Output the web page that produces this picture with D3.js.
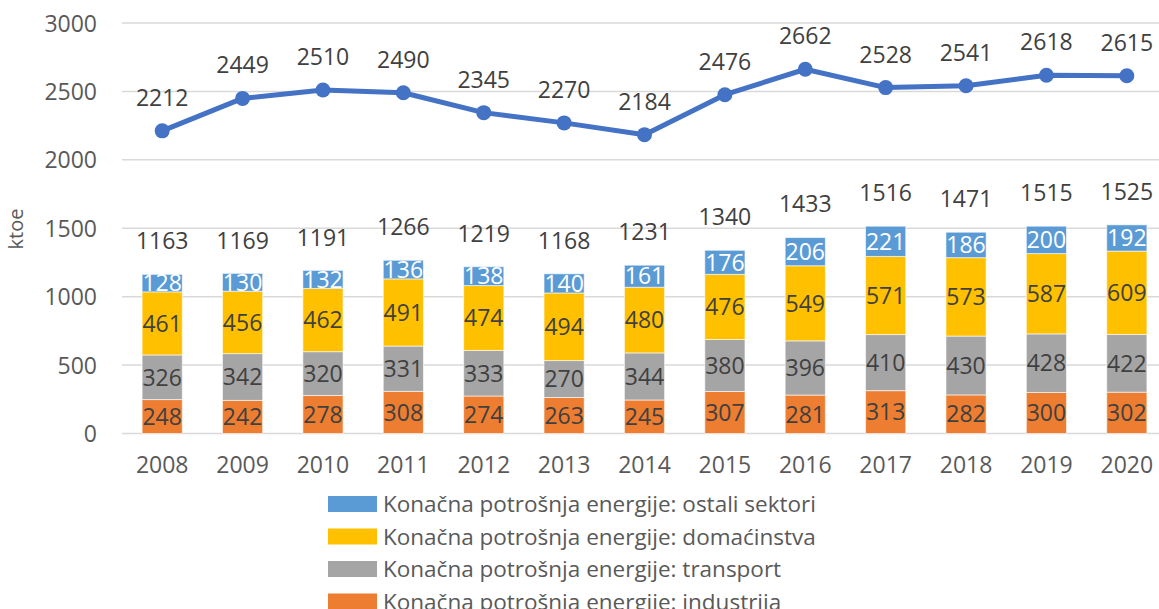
<!DOCTYPE html>
<html>
<head>
<meta charset="utf-8">
<script src="https://cdn.jsdelivr.net/npm/d3@7"></script>
<style>
  body { margin: 0; background: #fff; }
  svg { display: block; font-family: "Open Sans", sans-serif; }
</style>
</head>
<body>
<div id="chart"></div>
<script>
var years = ["2008", "2009", "2010", "2011", "2012", "2013", "2014", "2015", "2016", "2017", "2018", "2019", "2020"];
var industrija = [248, 242, 278, 308, 274, 263, 245, 307, 281, 313, 282, 300, 302];
var transport = [326, 342, 320, 331, 333, 270, 344, 380, 396, 410, 430, 428, 422];
var domacinstva = [461, 456, 462, 491, 474, 494, 480, 476, 549, 571, 573, 587, 609];
var ostali = [128, 130, 132, 136, 138, 140, 161, 176, 206, 221, 186, 200, 192];
var totals = [1163, 1169, 1191, 1266, 1219, 1168, 1231, 1340, 1433, 1516, 1471, 1515, 1525];
var ukupno = [2212, 2449, 2510, 2490, 2345, 2270, 2184, 2476, 2662, 2528, 2541, 2618, 2615];
var yTicks = [0, 500, 1000, 1500, 2000, 2500, 3000];

var seriesNames = [
    "Konačna potrošnja energije: industrija",
    "Konačna potrošnja energije: transport",
    "Konačna potrošnja energije: domaćinstva",
    "Konačna potrošnja energije: ostali sektori"
];
var seriesColors = ["#ED7D31", "#A5A5A5", "#FFC000", "#5B9BD5"];
var labelColors = ["#404040", "#404040", "#404040", "#ffffff"];

var width = 1159, height = 609;
var svg = d3.select("#chart").append("svg")
    .attr("width", width)
    .attr("height", height);

var x = d3.scaleBand()
    .domain(years)
    .range([122, 1167])
    .paddingInner(0.5)
    .paddingOuter(0.25);

var y = d3.scaleLinear()
    .domain([0, 3000])
    .range([433.5, 23]);

// grid lines
svg.append("g").selectAll("line")
    .data(yTicks)
    .enter()
    .append("line")
    .attr("x1", 122)
    .attr("x2", 1167)
    .attr("y1", d => y(d))
    .attr("y2", d => y(d))
    .attr("stroke", "#D9D9D9")
    .attr("stroke-width", 1.5);

// y axis labels
var yAxis = d3.axisLeft(y).tickValues(yTicks).tickFormat(d3.format("d")).tickSize(0).tickPadding(0);
var gy = svg.append("g")
    .attr("transform", "translate(97,0)")
    .call(yAxis);
gy.select(".domain").remove();
gy.selectAll("text")
    .attr("font-size", 23)
    .attr("font-family", "Open Sans")
    .attr("fill", "#595959")
    .attr("dy", "0.35em");

// x axis labels
var xAxis = d3.axisBottom(x).tickSize(0).tickPadding(0);
var gx = svg.append("g")
    .attr("transform", "translate(0,457)")
    .call(xAxis);
gx.select(".domain").remove();
gx.selectAll("text")
    .attr("font-size", 23)
    .attr("font-family", "Open Sans")
    .attr("fill", "#595959");

// y title
svg.append("text")
    .text("ktoe")
    .attr("transform", "translate(23,229) rotate(-90)")
    .attr("text-anchor", "middle")
    .attr("font-size", 20)
    .attr("fill", "#595959");

// stacked bars
var rows = years.map(function (yr, i) {
    return { year: yr, s0: industrija[i], s1: transport[i], s2: domacinstva[i], s3: ostali[i] };
});
var stack = d3.stack().keys(["s0", "s1", "s2", "s3"]);
var stacked = stack(rows);

stacked.forEach(function (layer, k) {
    var g = svg.append("g");
    g.selectAll("rect")
        .data(layer)
        .enter()
        .append("rect")
        .attr("x", d => x(d.data.year))
        .attr("width", x.bandwidth())
        .attr("y", d => y(d[1]))
        .attr("height", d => y(d[0]) - y(d[1]))
        .attr("fill", seriesColors[k])
        .attr("stroke", "#ffffff")
        .attr("stroke-opacity", 0.6)
        .attr("stroke-width", 1);
    g.selectAll("text")
        .data(layer)
        .enter()
        .append("text")
        .text(d => d.data["s" + k])
        .attr("x", d => x(d.data.year) + x.bandwidth() / 2)
        .attr("y", d => (y(d[0]) + y(d[1])) / 2)
        .attr("dy", "0.36em")
        .attr("text-anchor", "middle")
        .attr("font-size", 23)
        .attr("fill", labelColors[k]);
});

// totals above bars
svg.append("g").selectAll("text")
    .data(totals)
    .enter()
    .append("text")
    .text(d => d)
    .attr("x", (d, i) => x(years[i]) + x.bandwidth() / 2)
    .attr("y", d => y(d) - 25)
    .attr("text-anchor", "middle")
    .attr("font-size", 23)
    .attr("fill", "#404040");

// line series
var line = d3.line()
    .x((d, i) => x(years[i]) + x.bandwidth() / 2)
    .y(d => y(d));

svg.append("path")
    .datum(ukupno)
    .attr("d", line)
    .attr("fill", "none")
    .attr("stroke", "#4472C4")
    .attr("stroke-width", 5)
    .attr("stroke-linejoin", "round");

svg.append("g").selectAll("circle")
    .data(ukupno)
    .enter()
    .append("circle")
    .attr("cx", (d, i) => x(years[i]) + x.bandwidth() / 2)
    .attr("cy", d => y(d))
    .attr("r", 7.5)
    .attr("fill", "#4472C4");

svg.append("g").selectAll("text")
    .data(ukupno)
    .enter()
    .append("text")
    .text(d => d)
    .attr("x", (d, i) => x(years[i]) + x.bandwidth() / 2)
    .attr("y", d => y(d) - 25)
    .attr("text-anchor", "middle")
    .attr("font-size", 23)
    .attr("fill", "#404040");

// legend
var legendOrder = [3, 2, 1, 0];
var lg = svg.append("g");
legendOrder.forEach(function (k, j) {
    var cy = 504 + j * 32.5;
    lg.append("rect")
        .attr("x", 328)
        .attr("y", cy - 8)
        .attr("width", 49)
        .attr("height", 16)
        .attr("fill", seriesColors[k]);
    lg.append("text")
        .text(seriesNames[k])
        .attr("x", 383)
        .attr("y", cy)
        .attr("dy", "0.36em")
        .attr("font-size", 22.5)
        .attr("fill", "#595959");
});
</script>
</body>
</html>
